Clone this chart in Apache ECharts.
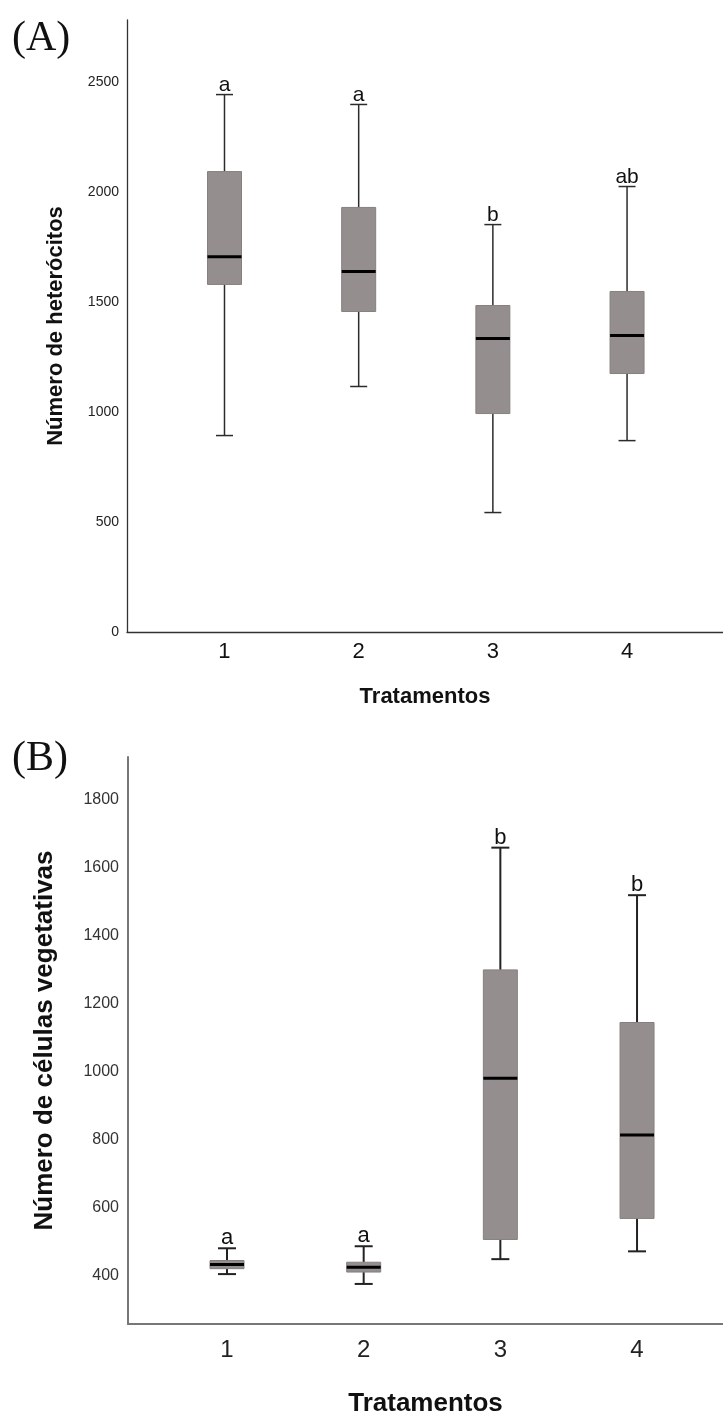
<!DOCTYPE html>
<html>
<head>
<meta charset="utf-8">
<script src="https://cdn.jsdelivr.net/npm/echarts@6/dist/echarts.min.js"></script>
<style>
html, body { margin: 0; padding: 0; background: #fff; }
#main { width: 723px; height: 1418px; }
</style>
</head>
<body>
<div id="main"></div>
<script>
// treatments on the x axis
var treatments = [1, 2, 3, 4];

// (A) heterocitos: [min, Q1, median, Q3, max]
var heterocitos = [
	[893, 1580, 1706, 2093, 2443],
	[1116, 1457, 1639, 1930, 2398],
	[543, 993, 1334, 1484, 1852],
	[870, 1175, 1348, 1548, 2025]
];
var lettersA = ['a', 'a', 'b', 'ab'];
var ticksA = [0, 500, 1000, 1500, 2000, 2500];

// (B) celulas vegetativas: [min, Q1, median, Q3, max]
var vegetativas = [
	[403, 419, 431, 443, 479],
	[374, 409, 423, 438, 485],
	[447, 505, 980, 1299, 1659],
	[470, 567, 813, 1144, 1519]
];
var lettersB = ['a', 'a', 'b', 'b'];
var ticksB = [400, 600, 800, 1000, 1200, 1400, 1600, 1800];

var SANS = '"Liberation Sans", Arial, sans-serif';
var SERIF = '"Liberation Serif", "Times New Roman", serif';

function toRows(stats) {
	var rows = [];
	for (var i = 0; i < stats.length; i++) {
		rows.push([treatments[i]].concat(stats[i]));
	}
	return rows;
}

function boxRenderer(letters, opt) {
	return function(params, api) {
		var x = api.value(0);
		var lo = api.coord([x, api.value(1)]);
		var q1 = api.coord([x, api.value(2)]);
		var md = api.coord([x, api.value(3)]);
		var q3 = api.coord([x, api.value(4)]);
		var hi = api.coord([x, api.value(5)]);
		var cx = lo[0];
		var hw = opt.halfWidth, cw = opt.capHalf;
		var wl = { stroke: opt.whisker, lineWidth: opt.lineWidth };
		return {
			type: 'group',
			children: [
				{ type: 'line', shape: { x1: cx, y1: hi[1], x2: cx, y2: q3[1] }, style: wl },
				{ type: 'line', shape: { x1: cx, y1: q1[1], x2: cx, y2: lo[1] }, style: wl },
				{ type: 'line', shape: { x1: cx - cw, y1: hi[1], x2: cx + cw, y2: hi[1] }, style: wl },
				{ type: 'line', shape: { x1: cx - cw, y1: lo[1], x2: cx + cw, y2: lo[1] }, style: wl },
				{
					type: 'rect',
					shape: { x: cx - hw, y: q3[1], width: hw * 2, height: q1[1] - q3[1] },
					style: { fill: '#948f8e', stroke: '#85807f', lineWidth: 1 }
				},
				{
					type: 'line',
					shape: { x1: cx - hw, y1: md[1], x2: cx + hw, y2: md[1] },
					style: { stroke: '#000', lineWidth: 3 }
				},
				{
					type: 'text',
					x: cx,
					y: hi[1] + 1,
					style: {
						text: letters[params.dataIndex],
						align: 'center',
						verticalAlign: 'bottom',
						fontSize: opt.letterSize,
						fontFamily: SANS,
						fill: '#111'
					}
				}
			]
		};
	};
}

function plain(v) {
	return String(v);
}

var myChart = echarts.init(document.getElementById('main'));

var option = {
	animation: false,
	backgroundColor: '#fff',
	title: [{
		text: '(A)',
		left: 12,
		top: 18,
		padding: 0,
		textStyle: { fontFamily: SERIF, fontSize: 42, fontWeight: 'normal', color: '#111', lineHeight: 42 }
	}, {
		text: '(B)',
		left: 12,
		top: 738,
		padding: 0,
		textStyle: { fontFamily: SERIF, fontSize: 42, fontWeight: 'normal', color: '#111', lineHeight: 42 }
	}],
	grid: [
		{ left: 127, right: 0, top: 20, height: 612 },
		{ left: 128, right: 0, top: 757, height: 570 }
	],
	xAxis: [{
		type: 'value',
		gridIndex: 0,
		min: 0.2735,
		max: 4.715,
		axisLine: { show: true, onZero: false, lineStyle: { color: '#333', width: 1.3 } },
		axisTick: { show: false },
		splitLine: { show: false },
		axisLabel: {
			customValues: treatments,
			formatter: plain,
			fontSize: 22,
			fontFamily: SANS,
			color: '#111',
			margin: 9
		},
		name: 'Tratamentos',
		nameLocation: 'middle',
		nameGap: 54,
		nameTextStyle: { fontSize: 22, fontWeight: 'bold', fontFamily: SANS, color: '#111' }
	}, {
		type: 'value',
		gridIndex: 1,
		min: 0.2756,
		max: 4.629,
		axisLine: { show: true, onZero: false, lineStyle: { color: '#777', width: 2 } },
		axisTick: { show: false },
		splitLine: { show: false },
		axisLabel: {
			customValues: treatments,
			formatter: plain,
			fontSize: 24,
			fontFamily: SANS,
			color: '#222',
			margin: 14
		},
		name: 'Tratamentos',
		nameLocation: 'middle',
		nameGap: 67,
		nameTextStyle: { fontSize: 26, fontWeight: 'bold', fontFamily: SANS, color: '#111' }
	}],
	yAxis: [{
		type: 'value',
		gridIndex: 0,
		min: 0,
		max: 2782,
		interval: 500,
		axisLine: { show: true, onZero: false, lineStyle: { color: '#333', width: 1.3 } },
		axisTick: { show: false },
		splitLine: { show: false },
		axisLabel: {
			customValues: ticksA,
			formatter: plain,
			fontSize: 14,
			fontFamily: SANS,
			color: '#222',
			margin: 8
		},
		name: 'Número de heterócitos',
		nameLocation: 'middle',
		nameGap: 60,
		nameTextStyle: { fontSize: 22, fontWeight: 'bold', fontFamily: SANS, color: '#111' }
	}, {
		type: 'value',
		gridIndex: 1,
		min: 256,
		max: 1926,
		splitNumber: 8,
		minInterval: 200,
		maxInterval: 200,
		axisLine: { show: true, onZero: false, lineStyle: { color: '#777', width: 2 } },
		axisTick: { show: false },
		splitLine: { show: false },
		axisLabel: {
			customValues: ticksB,
			formatter: plain,
			fontSize: 16,
			fontFamily: SANS,
			color: '#333',
			margin: 9
		},
		name: 'Número de células vegetativas',
		nameLocation: 'middle',
		nameGap: 70,
		nameTextStyle: { fontSize: 26, fontWeight: 'bold', fontFamily: SANS, color: '#111' }
	}],
	series: [{
		type: 'custom',
		xAxisIndex: 0,
		yAxisIndex: 0,
		silent: true,
		encode: { x: 0, y: [1, 2, 3, 4, 5] },
		renderItem: boxRenderer(lettersA, { halfWidth: 17, capHalf: 8.5, whisker: '#2b2b2b', lineWidth: 1.5, letterSize: 21 }),
		data: toRows(heterocitos)
	}, {
		type: 'custom',
		xAxisIndex: 1,
		yAxisIndex: 1,
		silent: true,
		encode: { x: 0, y: [1, 2, 3, 4, 5] },
		renderItem: boxRenderer(lettersB, { halfWidth: 17, capHalf: 9, whisker: '#222', lineWidth: 2, letterSize: 22 }),
		data: toRows(vegetativas)
	}]
};

myChart.setOption(option);
</script>
</body>
</html>
